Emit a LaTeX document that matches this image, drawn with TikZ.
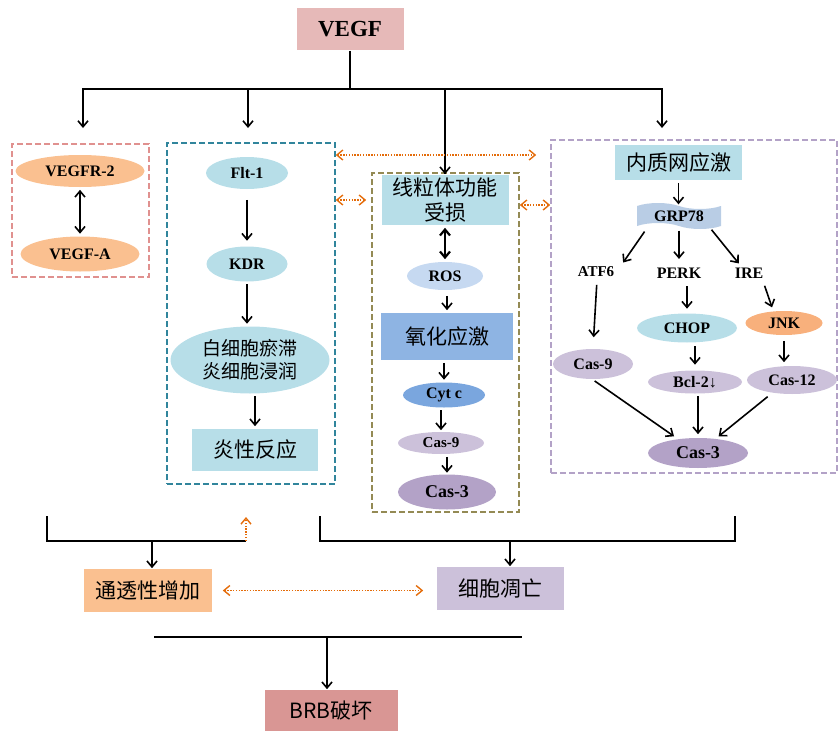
\documentclass[tikz,border=0pt]{standalone}
\usepackage{fontspec}
\setmainfont{Liberation Serif}
\newfontfamily\cjk{Noto Sans CJK SC}
\usetikzlibrary{arrows.meta}
\usetikzlibrary{shapes.geometric}
\usetikzlibrary{shapes.symbols}

\definecolor{vegfpink}{HTML}{E6B9B8}
\definecolor{brbred}{HTML}{D99694}
\definecolor{peach}{HTML}{FAC090}
\definecolor{jnkorange}{HTML}{F8B07C}
\definecolor{teal}{HTML}{B7DEE8}
\definecolor{lilac}{HTML}{CCC1DA}
\definecolor{violet}{HTML}{B3A2C7}
\definecolor{paleblue}{HTML}{C6D9F1}
\definecolor{grpblue}{HTML}{B9CDE5}
\definecolor{oxblue}{HTML}{8EB4E3}
\definecolor{cytblue}{HTML}{7AA6DE}
\definecolor{frameA}{HTML}{E0918F}
\definecolor{frameB}{HTML}{31859C}
\definecolor{frameC}{HTML}{948A54}
\definecolor{frameD}{HTML}{B3A2C7}
\definecolor{dorange}{HTML}{E46C0A}

\begin{document}
\begin{tikzpicture}[x=1pt,y=-1pt, line width=1.6pt,
  >={Straight Barb[length=6pt,width=10pt]},
  ov/.style={ellipse, inner sep=0pt, font=\bfseries\fontsize{16}{18}\selectfont},
  bx/.style={rectangle, inner sep=0pt, align=center, font=\cjk\fontsize{21}{25}\selectfont},
  frame/.style={rectangle, draw, dash pattern=on 6pt off 3pt, line width=1.6pt, inner sep=0pt},
  lbl/.style={inner sep=2pt, font=\bfseries\fontsize{16}{18}\selectfont},
  arr/.style={->, shorten <=2pt, shorten >=2pt},
  orng/.style={<->, color=dorange, dash pattern=on 1.4pt off 1.4pt, line width=1.4pt}]
  \useasboundingbox (0,0) rectangle (839,731);

  % dashed frames
  \node[frame, draw=frameA, minimum width=137pt, minimum height=133pt] (box1) at (80.5,210.5) {};
  \node[frame, draw=frameB, minimum width=168pt, minimum height=341pt] (box2) at (251,313.5) {};
  \node[frame, draw=frameC, minimum width=147pt, minimum height=339pt] (box3) at (445.5,342.5) {};
  \node[frame, draw=frameD, minimum width=286pt, minimum height=333pt] (box4) at (694,306.5) {};

  % top node and its four branches
  \node[bx, fill=vegfpink, minimum width=107pt, minimum height=42pt,
        font=\bfseries\fontsize{23}{23}\selectfont] (vegf) at (350,29) {VEGF};
  \coordinate (hub) at (350,89);
  \coordinate (a1) at (83,128);
  \coordinate (a2) at (248,128);
  \coordinate (a4) at (662,128);
  \draw (vegf.south) -- (hub);
  \draw[->] (hub) -| (a1);
  \draw[->] (hub) -| (a2);
  \draw[->] (hub) -| (a4);

  % receptor box
  \node[ov, fill=peach, minimum width=129pt, minimum height=32pt] (r2) at (80,171) {VEGFR-2};
  \node[ov, fill=peach, minimum width=119pt, minimum height=35pt] (va) at (80,254) {VEGF-A};
  \draw[<->, shorten <=2pt, shorten >=2pt] (r2) -- (va);

  % inflammation box
  \node[ov, fill=teal, minimum width=82pt, minimum height=32pt] (flt) at (247,173) {Flt-1};
  \node[ov, fill=teal, minimum width=81pt, minimum height=35pt] (kdr) at (247,264) {KDR};
  \node[ellipse, inner sep=0pt, fill=teal, minimum width=159pt, minimum height=67pt, align=center,
        font=\cjk\fontsize{19}{23}\selectfont] (wbc) at (250,360) {白细胞瘀滞\\炎细胞浸润};
  \node[bx, fill=teal, minimum width=126pt, minimum height=42pt] (inf) at (255,450) {炎性反应};
  \draw[arr, shorten <=10pt, shorten >=5pt] (flt) -- (kdr);
  \draw[arr] (kdr) -- (kdr |- wbc.north);
  \draw[arr] (wbc.south -| inf) -- (inf);

  % mitochondria box
  \node[bx, fill=teal, minimum width=127pt, minimum height=50pt] (mito) at (445,200) {线粒体功能\\受损};
  \node[ov, fill=paleblue, minimum width=76pt, minimum height=28pt] (ros) at (445,276) {ROS};
  \node[bx, fill=oxblue, minimum width=132pt, minimum height=47pt] (ox) at (447,336.5) {氧化应激};
  \node[ov, fill=cytblue, minimum width=82pt, minimum height=25pt] (cyt) at (444,395) {Cyt c};
  \node[ov, fill=lilac, minimum width=86pt, minimum height=22pt,
        font=\bfseries\fontsize{15}{17}\selectfont] (c9a) at (441,443) {Cas-9};
  \node[ov, fill=violet, minimum width=98pt, minimum height=35pt,
        font=\bfseries\fontsize{18}{20}\selectfont] (c3a) at (447,492) {Cas-3};
  \draw (hub) -| (mito.north);
  \draw[->] (mito.north |- 0,150) -- (mito.north);
  \draw[<->, line width=2.2pt, shorten <=2pt, shorten >=2pt] (mito.south -| ros) -- (ros);
  \draw[arr, shorten <=5pt] (ros.south -| ox) -- (ox);
  \draw[arr] (ox.south -| cyt) -- (cyt);
  \draw[arr, shorten >=1pt] (cyt.south -| c9a) -- (c9a);
  \draw[arr, shorten >=1pt] (c9a.south -| c3a) -- (c3a);

  % ER stress box
  \node[bx, fill=teal, minimum width=127pt, minimum height=35pt] (er) at (678.5,162.5) {内质网应激};
  \node[tape, fill=grpblue, inner sep=0pt, tape bend top=out and in, tape bend bottom=out and in,
        tape bend height=6pt, minimum width=84pt, minimum height=26pt,
        font=\bfseries\fontsize{16}{18}\selectfont] (grp) at (679,216) {GRP78};
  \node[lbl, font=\bfseries\fontsize{15}{17}\selectfont] (atf) at (596,272) {ATF6};
  \node[lbl] (perk) at (679,273) {PERK};
  \node[lbl] (ire) at (749,273) {IRE};
  \node[ov, fill=teal, minimum width=100pt, minimum height=29pt] (chop) at (687,328) {CHOP};
  \node[ov, fill=jnkorange, minimum width=77pt, minimum height=24pt] (jnk) at (784,323) {JNK};
  \node[ov, fill=lilac, minimum width=80pt, minimum height=30pt] (c9b) at (593,364) {Cas-9};
  \node[ov, fill=lilac, minimum width=94pt, minimum height=23pt] (bcl) at (695,382) {Bcl-2↓};
  \node[ov, fill=lilac, minimum width=90pt, minimum height=28pt] (c12) at (792,380) {Cas-12};
  \node[ov, fill=violet, minimum width=100pt, minimum height=30pt,
        font=\bfseries\fontsize{18}{20}\selectfont] (c3b) at (698,453) {Cas-3};
  \draw[arr, shorten >=1pt] (er) -- (er |- grp.north);
  \draw[arr, shorten <=6pt] ([xshift=-31pt]grp.south) -- ([xshift=26pt]atf.north);
  \draw[arr, shorten <=4pt, shorten >=6pt] (grp.south -| perk) -- (perk);
  \draw[arr, shorten <=4pt] ([xshift=30pt]grp.south) -- ([xshift=-9pt]ire.north);
  \draw[arr, shorten <=5pt, shorten >=11pt] ([xshift=1pt]atf.south) -- (c9b.north);
  \draw[arr, shorten <=5pt, shorten >=4pt] (perk.south -| chop) -- (chop);
  \draw[arr, shorten <=5pt, shorten >=3pt] ([xshift=14pt]ire.south) -- ([xshift=-11pt]jnk.north);
  \draw[arr, shorten <=3pt, shorten >=5pt] (chop.south -| bcl) -- (bcl);
  \draw[arr, shorten <=5pt, shorten >=3pt] (jnk) -- (jnk |- c12.north);
  \draw[arr, shorten >=4pt] (c9b.south) -- (c3b);
  \draw[arr, shorten >=3pt] (bcl.south -| c3b) -- (c3b);
  \draw[arr, shorten <=3pt, shorten >=3pt] ([xshift=-22pt]c12.south) -- (c3b);

  % dotted links between the boxes
  \draw[orng, shorten >=14pt] (box2.east |- 0,155) -- (box4.west |- 0,155);
  \draw[orng, shorten >=5pt] (box2.east |- 0,200) -- (box3.west |- 0,200);
  \draw[orng] (box3.east |- 0,205) -- (box4.west |- 0,205);

  % outcomes
  \node[bx, fill=peach, minimum width=128pt, minimum height=43pt] (perm) at (148,590.5) {通透性增加};
  \node[bx, fill=lilac, minimum width=127pt, minimum height=43pt] (apo) at (500.5,588.5) {细胞凋亡};
  \node[bx, fill=brbred, minimum width=133pt, minimum height=42pt] (brb) at (331,711) {BRB破坏};
  \coordinate (l1) at (47,516);
  \coordinate (l2) at (246,516);
  \coordinate (r1) at (320,516);
  \coordinate (r2b) at (735,516);
  \coordinate (jp) at (152,541);
  \coordinate (ja) at (510,541);
  \draw (l1) |- (l2 |- jp);
  \draw[orng, ->, shorten >=1pt] (l2 |- jp) -- (l2);
  \draw (r1) |- (r2b |- ja) -- (r2b);
  \draw[->] (jp) -- (jp |- perm.north);
  \draw[->] (ja) -- (ja |- apo.north);
  \draw[orng, shorten <=10pt, shorten >=13pt] (perm.east) -- (perm.east -| apo.west);
  \coordinate (bl) at (154,637);
  \coordinate (br) at (522,637);
  \coordinate (jb) at (327,637);
  \draw (bl) -- (br);
  \draw[->] (jb) -- (jb |- brb.north);
\end{tikzpicture}
\end{document}
